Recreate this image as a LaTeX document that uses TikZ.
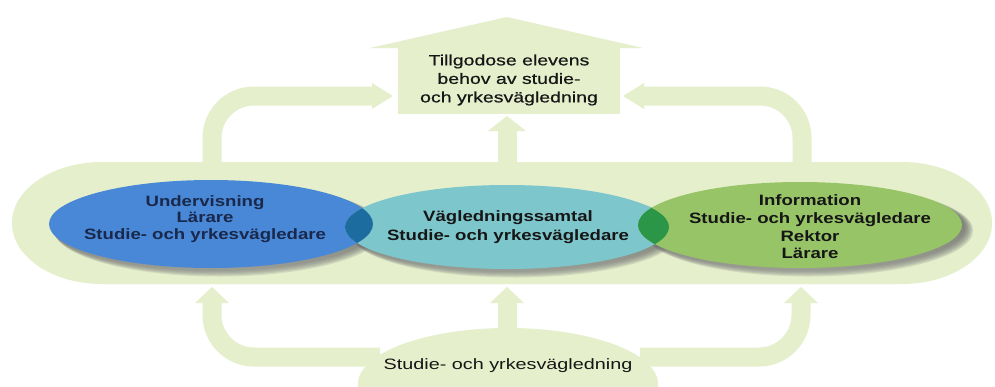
\documentclass[tikz,border=0pt]{standalone}
\usepackage{fontspec}
\setmainfont{Liberation Sans}
\newfontfamily\regf[FakeStretch=1.32]{Liberation Sans}
\newfontfamily\medf[FakeStretch=1.3,FakeBold=0.6]{Liberation Sans}
\newfontfamily\boldf[FakeStretch=1.24]{Liberation Sans}
\usetikzlibrary{shapes.geometric}
\definecolor{lg}{RGB}{229,239,204}
\definecolor{blueE}{RGB}{72,136,214}
\definecolor{tealE}{RGB}{124,198,204}
\definecolor{greenE}{RGB}{152,196,104}
\definecolor{blueX}{RGB}{28,108,160}
\definecolor{greenX}{RGB}{44,150,72}
\definecolor{navy}{RGB}{25,40,75}
\definecolor{ink}{RGB}{22,22,22}
\definecolor{shade}{RGB}{30,55,25}
\tikzset{
  fatarrow/.style={draw=lg, line width=19pt, rounded corners=42pt},
  head/.style={fill=lg},
  oval/.style={ellipse, inner sep=0pt, align=center, font=\boldf\bfseries\fontsize{15}{17.5}\selectfont},
  lbl/.style={align=center, inner sep=0pt}
}
\begin{document}
\begin{tikzpicture}[x=1pt,y=-1pt]
\useasboundingbox (0,0) rectangle (995,386);
\fill[white] (0,0) rectangle (995,386);

% central band
\fill[lg] (102,162) -- (902,162) arc[start angle=-90, end angle=90, x radius=90, y radius=61]
  -- (102,284) arc[start angle=90, end angle=270, x radius=90, y radius=61] -- cycle;

% goal box (house shape)
\fill[lg] (370,48) -- (507,17) -- (643,48) -- cycle;
\node[fill=lg, minimum width=222pt, minimum height=67pt, inner sep=0pt,
      font=\medf\fontsize{15}{18.5}\selectfont, text=ink, align=center] (goal) at (509,80)
  {Tillgodose elevens\\behov av studie-\\och yrkesvägledning};

% bottom blob
\fill[lg] (508,384) ellipse [x radius=150, y radius=56];
\node[lbl, font=\regf\fontsize{15}{18}\selectfont, text=ink] (svl) at (508,366) {Studie- och yrkesvägledning};

% top arrows
\coordinate (tlS) at (212,170); \coordinate (tlE) at (372,96);
\draw[fatarrow] (tlS) |- (tlE);
\fill[head] (372,83) -- (393,96) -- (372,109) -- cycle;
\coordinate (trS) at (802,170); \coordinate (trE) at (644,96);
\draw[fatarrow] (trS) |- (trE);
\fill[head] (644,83) -- (623,96) -- (644,109) -- cycle;
\coordinate (tmS) at (507,170); \coordinate (tmE) at (507,130);
\draw[draw=lg, line width=19pt] (tmS) -- (tmE);
\fill[head] (488,131) -- (507,116) -- (526,131) -- cycle;

% bottom arrows
\coordinate (blS) at (380,357); \coordinate (blE) at (212,302);
\draw[fatarrow] (blS) -| (blE);
\fill[head] (195,303) -- (212,287) -- (229,303) -- cycle;
\coordinate (brS) at (640,357); \coordinate (brE) at (801,302);
\draw[fatarrow] (brS) -| (brE);
\fill[head] (784,303) -- (801,287) -- (818,303) -- cycle;
\coordinate (bmS) at (507,335); \coordinate (bmE) at (507,302);
\draw[draw=lg, line width=19pt] (bmS) -- (bmE);
\fill[head] (490,303) -- (507,287) -- (524,303) -- cycle;

% shadows of the ovals
\foreach \cx/\cy/\rx/\ry in {211/224/162/44, 507/227/162/42, 800/225/162/43}{
  \foreach \i in {0,...,5}{
    \fill[shade, opacity=0.10] (\cx+3+\i,\cy+3+\i*0.5) ellipse [x radius=\rx+\i*0.6, y radius=\ry+\i*0.6];
  }
}

% ovals
\node[oval, fill=blueE, minimum width=324pt, minimum height=88pt] (teach) at (211,224) {};
\node[oval, fill=tealE, minimum width=324pt, minimum height=84pt] (talk) at (507,227) {};
\node[oval, fill=greenE, minimum width=324pt, minimum height=86pt] (info) at (800,225) {};

% overlaps
\begin{scope}
  \clip (211,224) ellipse [x radius=162, y radius=44];
  \fill[blueX] (507,227) ellipse [x radius=162, y radius=42];
\end{scope}
\begin{scope}
  \clip (507,227) ellipse [x radius=162, y radius=42];
  \fill[greenX] (800,225) ellipse [x radius=162, y radius=43];
\end{scope}

% oval texts
\node[lbl, font=\boldf\bfseries\fontsize{15}{16.5}\selectfont, text=navy] (teachT) at (205,219)
  {Undervisning\\Lärare\\Studie- och yrkesvägledare};
\node[lbl, font=\boldf\bfseries\fontsize{15}{18.5}\selectfont, text=ink] (talkT) at (508,227)
  {Vägledningssamtal\\Studie- och yrkesvägledare};
\node[lbl, font=\boldf\bfseries\fontsize{15}{17.7}\selectfont, text=ink] (infoT) at (810,227)
  {Information\\Studie- och yrkesvägledare\\Rektor\\Lärare};
\end{tikzpicture}
\end{document}
